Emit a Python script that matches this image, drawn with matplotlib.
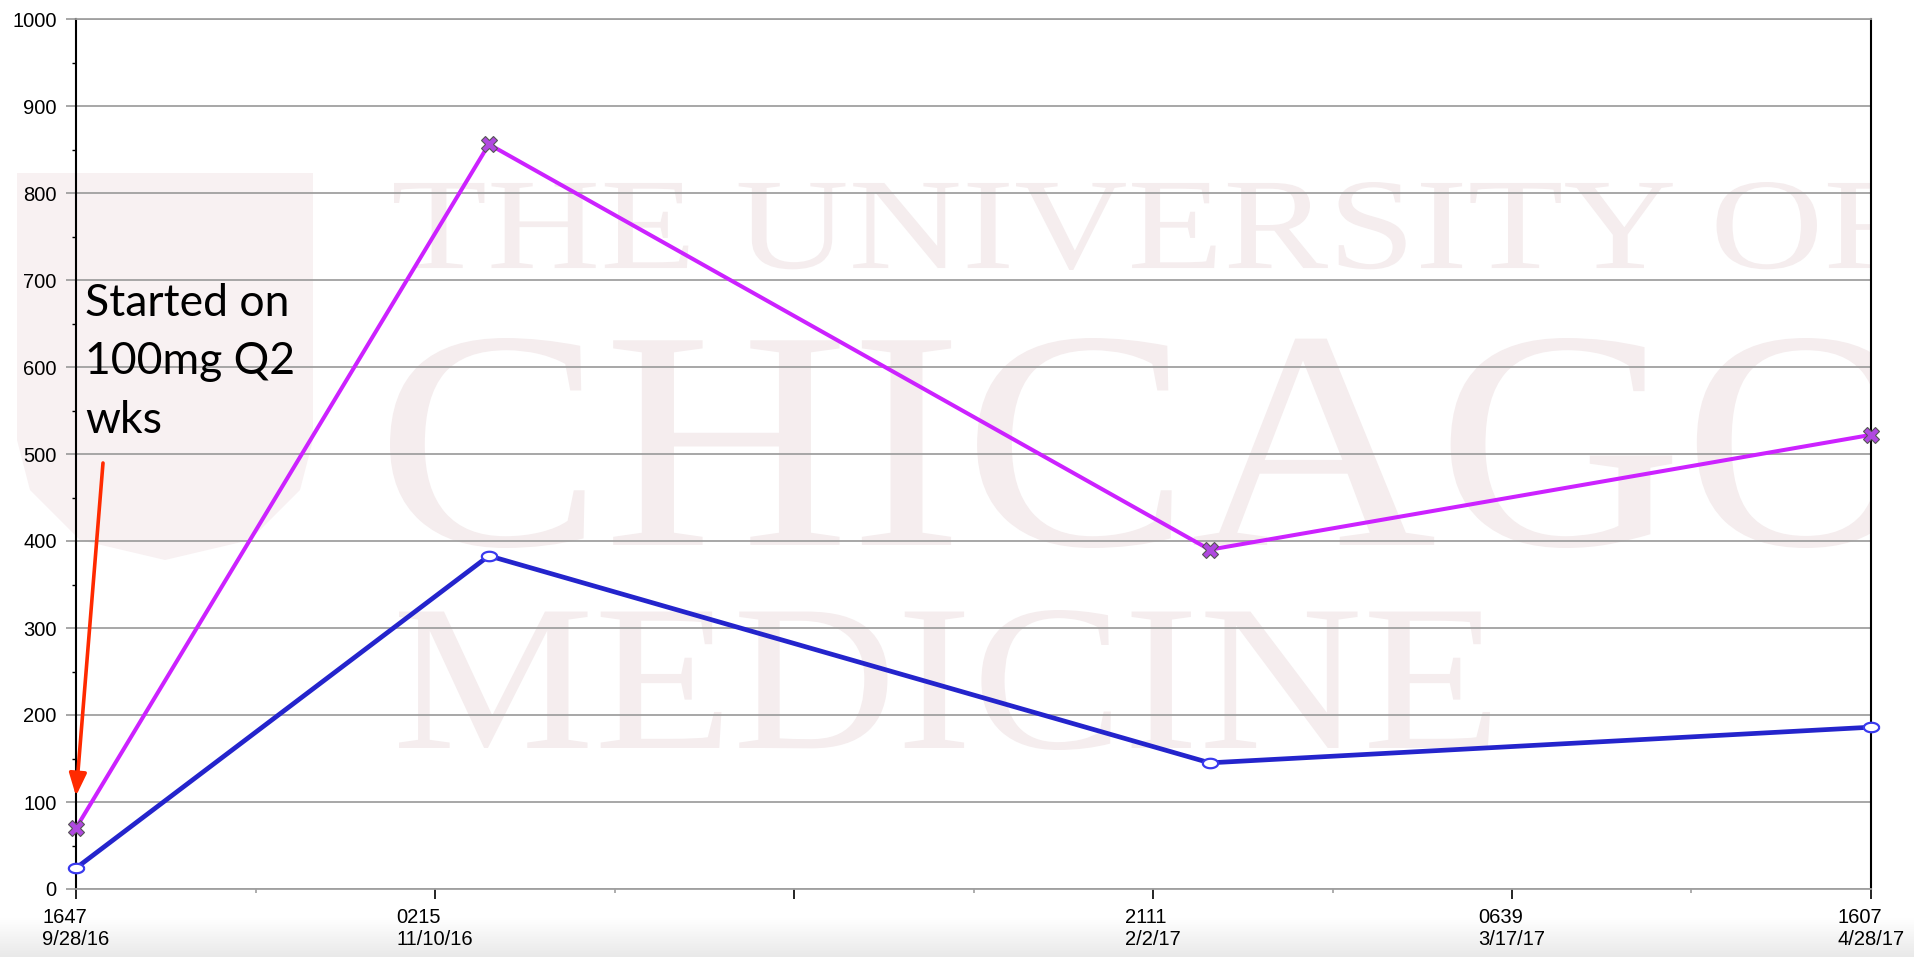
import matplotlib
matplotlib.use("Agg")
from matplotlib import pyplot as plt
import matplotlib.dates as mdates
from matplotlib.path import Path
from matplotlib.patches import PathPatch, Rectangle
from matplotlib.textpath import TextPath
from matplotlib.font_manager import FontProperties
from matplotlib.transforms import Affine2D
import numpy as np
import pandas as pd

# sample draw times and the two measured series
SAMPLE_TIMES = ["2016-09-28 16:47", "2016-11-16 11:00", "2017-02-09 14:00", "2017-04-28 16:07"]
UPPER_VALUES = [70, 856, 390, 522]
LOWER_VALUES = [24, 383, 145, 186]

Y_TICKS = list(range(0, 1001, 100))
X_TICK_LABELS = ["1647\n9/28/16", "0215\n11/10/16", "", "2111\n2/2/17", "0639\n3/17/17", "1607\n4/28/17"]

NOTE_TEXT = "Started on\n100mg Q2\nwks"
WATERMARK_LINES = ["THE UNIVERSITY OF", "CHICAGO", "MEDICINE"]

W, H = 1915, 957
GRID_GREY = "#a0a0a0"
WM_PINK = "#f5edee"


def fit_text(ax, text, x0, x1, ytop, ybot, clip):
    # stretch a text outline into a pixel box (background axes has y pointing down)
    tp = TextPath((0, 0), text, size=100, prop=FontProperties(family="Liberation Serif"))
    bb = tp.get_extents()
    tr = (Affine2D().translate(-bb.x0, -bb.y0)
          .scale((x1 - x0) / bb.width, -(ybot - ytop) / bb.height)
          .translate(x0, ybot))
    patch = PathPatch(tr.transform_path(tp), facecolor=WM_PINK, edgecolor="none", zorder=1)
    ax.add_patch(patch)
    patch.set_clip_path(clip)


def draw_background(fig):
    bg = fig.add_axes([0, 0, 1, 1], zorder=0)
    bg.set_xlim(0, W)
    bg.set_ylim(H, 0)
    bg.axis("off")

    # bottom grey band of the screenshot
    grad = np.linspace(0, 1, 64)[:, None]
    bg.imshow(grad, extent=(0, W, H, 918), cmap=matplotlib.colors.LinearSegmentedColormap.from_list(
        "band", ["#ffffff", "#e9e9e9"]), aspect="auto", zorder=0)

    clip = Rectangle((0, 0), 1871, H, transform=bg.transData)

    # shield
    verts = [(17, 173), (313, 173), (313, 440), (300, 490), (250, 540), (165, 560),
             (80, 540), (30, 490), (17, 440), (17, 173)]
    shield = Path(verts, [Path.MOVETO] + [Path.LINETO] * (len(verts) - 2) + [Path.CLOSEPOLY])
    bg.add_patch(PathPatch(shield, facecolor="#f8f1f2", edgecolor="none", zorder=1))

    boxes = [(394, 1905, 182, 270), (390, 1915, 338, 548), (399, 1490, 610, 750)]
    for line, (x0, x1, yt, yb) in zip(WATERMARK_LINES, boxes):
        fit_text(bg, line, x0, x1, yt, yb, clip)


def main():
    times = pd.to_datetime(SAMPLE_TIMES)
    xs = mdates.date2num(times.to_pydatetime())

    fig = plt.figure(figsize=(W / 100, H / 100), dpi=100)
    draw_background(fig)

    ax = fig.add_axes([76 / W, (H - 889) / H, (1871 - 76) / W, (889 - 19) / H], zorder=1)
    ax.patch.set_alpha(0)

    t = np.linspace(0, 2 * np.pi, 41)
    ellipse = Path(np.c_[np.cos(t), 0.62 * np.sin(t)])

    ax.plot(xs, LOWER_VALUES, color="#2424cc", lw=3.4, marker=ellipse, ms=11,
            mfc="white", mec="#3a3aee", mew=1.6, clip_on=False, zorder=3)
    ax.plot(xs, UPPER_VALUES, color="#cc22ff", lw=2.9, marker="X", ms=11,
            mfc="#b048e0", mec="#555555", mew=0.8, clip_on=False, zorder=4)

    ax.set_xlim(xs[0], xs[-1])
    ax.set_ylim(0, 1000)

    major = np.linspace(xs[0], xs[-1], len(X_TICK_LABELS))
    ax.set_xticks(major)
    ax.set_xticklabels(X_TICK_LABELS, family="Liberation Sans", fontsize=14.5)
    for lab in ax.get_xticklabels():
        lab.set_multialignment("left")
    ax.set_xticks((major[:-1] + major[1:]) / 2, minor=True)

    ax.set_yticks(Y_TICKS)
    ax.set_yticklabels([str(v) for v in Y_TICKS], family="Liberation Sans", fontsize=14.5)
    ax.set_yticks(np.arange(50, 1000, 100), minor=True)

    ax.tick_params(axis="x", which="major", direction="out", length=7, width=1.2,
                   color="black", pad=7)
    ax.tick_params(axis="x", which="minor", direction="out", length=3, width=1.2, color=GRID_GREY)
    ax.tick_params(axis="y", which="major", direction="out", length=7, width=1.3,
                   color=GRID_GREY, pad=7)
    ax.tick_params(axis="y", which="minor", direction="out", length=3, width=1.0, color="black")

    ax.yaxis.grid(True, color=GRID_GREY, lw=1.3)
    ax.set_axisbelow(True)

    for side in ("left", "right"):
        ax.spines[side].set_color("black")
        ax.spines[side].set_linewidth(1.5)
    for side in ("top", "bottom"):
        ax.spines[side].set_color(GRID_GREY)
        ax.spines[side].set_linewidth(1.3)

    fig.text(85 / W, 1 - 283 / H, NOTE_TEXT, ha="left", va="top", family="Lato",
             fontsize=32, linespacing=1.53, color="black", zorder=5)
    ax.annotate("", xy=(76, H - 796), xycoords="figure pixels",
                xytext=(103, H - 463), textcoords="figure pixels",
                arrowprops=dict(arrowstyle="-|>,head_length=0.9,head_width=0.35",
                                color="#ff2a00", lw=2.6, shrinkA=0, shrinkB=0,
                                mutation_scale=15))

    fig.savefig("out.png", dpi=100)


if __name__ == "__main__":
    main()
